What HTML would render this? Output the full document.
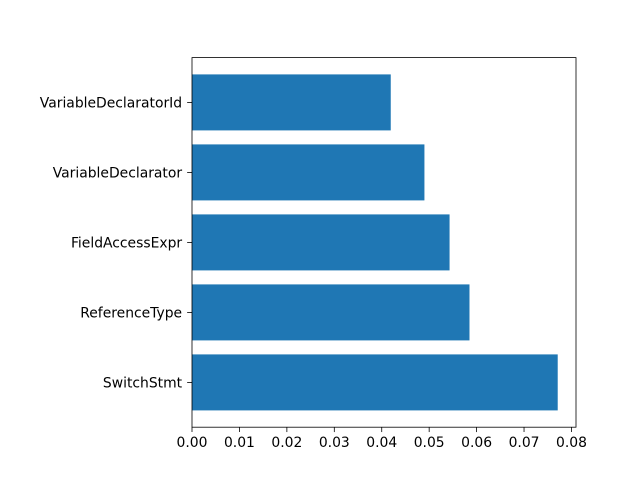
<!DOCTYPE html>
<html><head><meta charset="utf-8">
<style>
html,body{margin:0;padding:0;background:#fff;}
svg{display:block;font-family:"DejaVu Sans","Liberation Sans",sans-serif;}
</style></head>
<body>
<svg id="chart" width="640" height="480" xmlns="http://www.w3.org/2000/svg"></svg>
<script>
const categories = ["SwitchStmt","ReferenceType","FieldAccessExpr","VariableDeclarator","VariableDeclaratorId"];
const values = [0.0771, 0.0585, 0.0543, 0.0490, 0.0419];
const xTicks = [0,0.01,0.02,0.03,0.04,0.05,0.06,0.07,0.08];
const xTickLabels = ["0.00","0.01","0.02","0.03","0.04","0.05","0.06","0.07","0.08"];

const svg = document.getElementById('chart');
const NS = "http://www.w3.org/2000/svg";
const L=192, R=576, T=57.6, B=427.2;
const TL=4.86, FS='13.9px';
const xmax = Math.max(...values)*1.05;
const x = v => L + v/xmax*(R-L);
const n = categories.length;
const ymin = -0.4 - 0.05*(n-0.2), ymax = (n-1)+0.4 + 0.05*(n-0.2);
const y = v => B - (v-ymin)/(ymax-ymin)*(B-T);
function el(tag, attrs){const e=document.createElementNS(NS,tag);for(const k in attrs)e.setAttribute(k,attrs[k]);svg.appendChild(e);return e;}

values.forEach((v,i)=>{
  const r = el('rect',{x:x(0),y:y(i+0.4),width:x(v)-x(0),height:y(i-0.4)-y(i+0.4),fill:'#1f77b4'});
  
  
  const tk = el('line',{x1:L-TL,x2:L,y1:y(i),y2:y(i),stroke:'#000','stroke-width':0.8});
  
  
  const t = el('text',{x:L-9.9,y:y(i)+5,'text-anchor':'end','font-size':FS,fill:'#000'});
  t.textContent = categories[i];
  
  
});
xTicks.forEach((v,i)=>{
  const tk = el('line',{x1:x(v),x2:x(v),y1:B,y2:B+TL,stroke:'#000','stroke-width':0.8});
  
  
  const t = el('text',{x:x(v),y:B+20,'text-anchor':'middle','font-size':FS,fill:'#000'});
  t.textContent = xTickLabels[i];
  
  
});
const frame = el('rect',{x:L,y:T,width:R-L,height:B-T,fill:'none',stroke:'#000','stroke-width':0.8});


</script>
</body></html>
